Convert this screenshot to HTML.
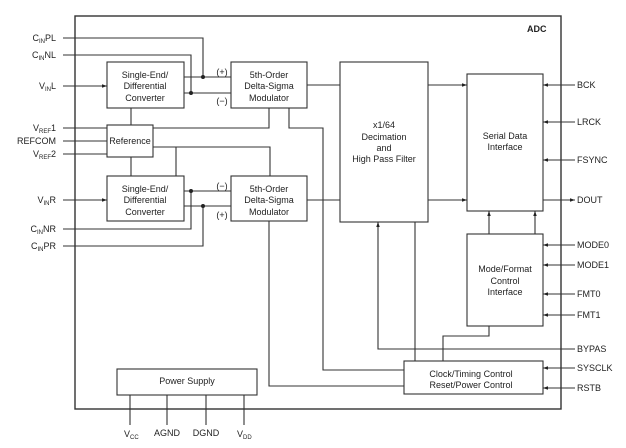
<!DOCTYPE html>
<html><head><meta charset="utf-8"><style>
html,body{margin:0;padding:0;background:#fff;}
svg{display:block;font-family:"Liberation Sans",Arial,sans-serif;}
text{font-size:9px;fill:#222;}
</style></head><body>
<svg width="626" height="448" viewBox="0 0 626 448" xmlns="http://www.w3.org/2000/svg">
<defs>
<marker id="a" viewBox="0 0 10 10" refX="10" refY="5" markerWidth="7" markerHeight="5" orient="auto" markerUnits="userSpaceOnUse"><path d="M0,1.5 L10,5 L0,8.5 z" fill="#222"/></marker>
</defs>
<g fill="none" stroke="#333" stroke-width="1.1">
<rect x="75" y="16" width="486" height="393" stroke-width="1.4"/>
<rect x="107" y="62" width="77" height="46"/>
<rect x="107" y="125" width="46" height="32"/>
<rect x="107" y="176" width="77" height="45"/>
<rect x="231" y="62" width="76" height="46"/>
<rect x="231" y="176" width="76" height="45"/>
<rect x="340" y="62" width="88" height="160"/>
<rect x="467" y="74" width="76" height="137"/>
<rect x="467" y="234" width="76" height="92"/>
<rect x="404" y="361" width="139" height="33"/>
<rect x="117" y="369" width="140" height="26"/>
<!-- left inputs -->
<polyline points="63,38 203,38 203,77"/>
<polyline points="63,55 191,55 191,93"/>
<line x1="63" y1="86" x2="107" y2="86" marker-end="url(#a)"/>
<line x1="63" y1="128" x2="107" y2="128"/>
<line x1="63" y1="141" x2="107" y2="141"/>
<line x1="63" y1="154" x2="107" y2="154"/>
<line x1="63" y1="200" x2="107" y2="200" marker-end="url(#a)"/>
<polyline points="63,229 191,229 191,191"/>
<polyline points="63,246 203,246 203,206"/>
<line x1="184" y1="77" x2="231" y2="77"/>
<line x1="184" y1="93" x2="231" y2="93"/>
<line x1="184" y1="191" x2="231" y2="191"/>
<line x1="184" y1="206" x2="231" y2="206"/>
<line x1="131" y1="108" x2="131" y2="125"/>
<line x1="131" y1="157" x2="131" y2="176"/>
<polyline points="153,128 269,128 269,108"/>
<polyline points="153,147 270,147 270,176"/>
<line x1="176" y1="147" x2="176" y2="176"/>
<polyline points="289,108 289,128 323,128 323,370 404,370"/>
<polyline points="269,221 269,386 404,386"/>
<line x1="307" y1="85" x2="340" y2="85"/>
<line x1="307" y1="200" x2="340" y2="200"/>
<line x1="428" y1="85" x2="467" y2="85" marker-end="url(#a)"/>
<line x1="428" y1="200" x2="467" y2="200" marker-end="url(#a)"/>
<!-- right pins -->
<line x1="575" y1="85" x2="543" y2="85" marker-end="url(#a)"/>
<line x1="575" y1="122" x2="543" y2="122" marker-end="url(#a)"/>
<line x1="575" y1="160" x2="543" y2="160" marker-end="url(#a)"/>
<line x1="543" y1="200" x2="575" y2="200" marker-end="url(#a)"/>
<line x1="575" y1="245" x2="543" y2="245" marker-end="url(#a)"/>
<line x1="575" y1="265" x2="543" y2="265" marker-end="url(#a)"/>
<line x1="575" y1="294" x2="543" y2="294" marker-end="url(#a)"/>
<line x1="575" y1="315" x2="543" y2="315" marker-end="url(#a)"/>
<line x1="575" y1="368" x2="543" y2="368" marker-end="url(#a)"/>
<line x1="575" y1="388" x2="543" y2="388" marker-end="url(#a)"/>
<polyline points="575,349 378,349 378,222" marker-end="url(#a)"/>
<line x1="415" y1="361" x2="415" y2="222"/>
<line x1="489" y1="234" x2="489" y2="211" marker-end="url(#a)"/>
<line x1="535" y1="234" x2="535" y2="211" marker-end="url(#a)"/>
<polyline points="489,326 489,336 443,336 443,361"/>
<line x1="130" y1="395" x2="130" y2="425"/>
<line x1="167" y1="395" x2="167" y2="425"/>
<line x1="206" y1="395" x2="206" y2="425"/>
<line x1="244" y1="395" x2="244" y2="425"/>
</g>
<g fill="#222">
<circle cx="203" cy="77" r="2"/><circle cx="191" cy="93" r="2"/>
<circle cx="191" cy="191" r="2"/><circle cx="203" cy="206" r="2"/>
</g>
<g text-anchor="middle">
<text x="145" y="78">Single-End/</text><text x="145" y="89">Differential</text><text x="145" y="101">Converter</text>
<text x="145" y="192">Single-End/</text><text x="145" y="203">Differential</text><text x="145" y="215">Converter</text>
<text x="130" y="144">Reference</text>
<text x="269" y="78">5th-Order</text><text x="269" y="89">Delta-Sigma</text><text x="269" y="101">Modulator</text>
<text x="269" y="192">5th-Order</text><text x="269" y="203">Delta-Sigma</text><text x="269" y="215">Modulator</text>
<text x="384" y="128">x1/64</text><text x="384" y="140">Decimation</text><text x="384" y="151">and</text><text x="384" y="162">High Pass Filter</text>
<text x="505" y="139">Serial Data</text><text x="505" y="150">Interface</text>
<text x="505" y="272">Mode/Format</text><text x="505" y="284">Control</text><text x="505" y="295">Interface</text>
<text x="471" y="377">Clock/Timing Control</text><text x="471" y="388">Reset/Power Control</text>
<text x="187" y="384">Power Supply</text>
<text x="222" y="75">(+)</text><text x="222" y="104">(−)</text>
<text x="222" y="189">(−)</text><text x="222" y="218">(+)</text>
<text x="167" y="436">AGND</text><text x="206" y="436">DGND</text>
</g>
<text x="124" y="437">V<tspan font-size="6" dy="2">CC</tspan></text>
<text x="237" y="437">V<tspan font-size="6" dy="2">DD</tspan></text>
<text x="527" y="32" style="font-weight:bold;font-size:9px">ADC</text>
<g text-anchor="end">
<text x="56" y="41">C<tspan font-size="6" dy="2">IN</tspan><tspan dy="-2">PL</tspan></text>
<text x="56" y="58">C<tspan font-size="6" dy="2">IN</tspan><tspan dy="-2">NL</tspan></text>
<text x="56" y="89">V<tspan font-size="6" dy="2">IN</tspan><tspan dy="-2">L</tspan></text>
<text x="56" y="131">V<tspan font-size="6" dy="2">REF</tspan><tspan dy="-2">1</tspan></text>
<text x="56" y="144">REFCOM</text>
<text x="56" y="157">V<tspan font-size="6" dy="2">REF</tspan><tspan dy="-2">2</tspan></text>
<text x="56" y="203">V<tspan font-size="6" dy="2">IN</tspan><tspan dy="-2">R</tspan></text>
<text x="56" y="232">C<tspan font-size="6" dy="2">IN</tspan><tspan dy="-2">NR</tspan></text>
<text x="56" y="249">C<tspan font-size="6" dy="2">IN</tspan><tspan dy="-2">PR</tspan></text>
</g>
<g>
<text x="577" y="88">BCK</text><text x="577" y="125">LRCK</text><text x="577" y="163">FSYNC</text>
<text x="577" y="203">DOUT</text><text x="577" y="248">MODE0</text><text x="577" y="268">MODE1</text>
<text x="577" y="297">FMT0</text><text x="577" y="318">FMT1</text><text x="577" y="352">BYPAS</text>
<text x="577" y="371">SYSCLK</text><text x="577" y="391">RSTB</text>
</g>
</svg>
</body></html>
